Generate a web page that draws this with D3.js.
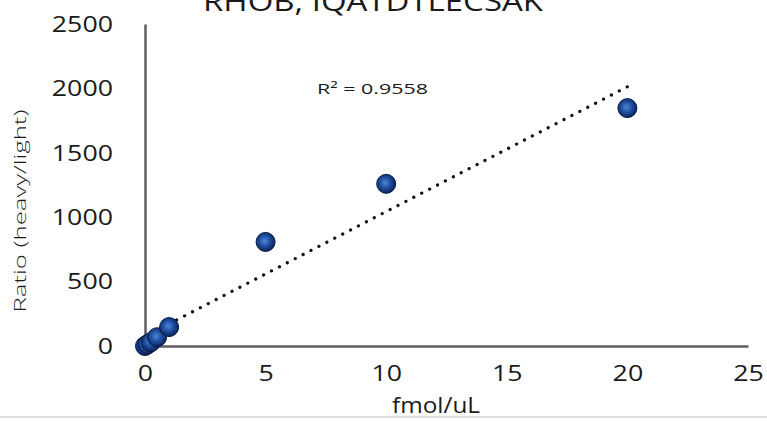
<!DOCTYPE html>
<html>
<head>
<meta charset="utf-8">
<script src="https://cdn.jsdelivr.net/npm/d3@7/dist/d3.min.js"></script>
<style>
  html, body { margin: 0; padding: 0; background: #fff; }
  svg { display: block; }
  text { font-family: "Open Sans", "Lato", sans-serif; fill: #1a1a1a; }
</style>
</head>
<body>
<svg id="chart" width="767" height="421"></svg>
<script>
// Calibration series: concentration (fmol/uL) vs heavy/light ratio
const concentration = [0, 0.1, 0.25, 0.5, 1, 5, 10, 20];
const ratio = [0, 12, 30, 68, 147, 808, 1259, 1847];
const xTicks = [0, 5, 10, 15, 20, 25];
const yTicks = [0, 500, 1000, 1500, 2000, 2500];
const titleText = "RHOB, IQATDTLECSAK";
const xLabel = "fmol/uL";
const yLabel = "Ratio (heavy/light)";

const svg = d3.select("#chart");
const W = 767, H = 421;
const m = { left: 145, right: 19, top: 24, bottom: 75 };

const x = d3.scaleLinear().domain([0, 25]).range([m.left, W - m.right]);
const y = d3.scaleLinear().domain([0, 2500]).range([H - m.bottom, m.top]);

// Least-squares linear trendline and its R²
const n = concentration.length;
const mx = d3.mean(concentration), my = d3.mean(ratio);
let sxy = 0, sxx = 0, syy = 0;
for (let i = 0; i < n; i++) {
  const dx = concentration[i] - mx, dy = ratio[i] - my;
  sxy += dx * dy; sxx += dx * dx; syy += dy * dy;
}
const slope = sxy / sxx, intercept = my - slope * mx;
const r2 = (sxy * sxy) / (sxx * syy);

// thin frame line along the bottom edge
svg.append("line")
  .attr("x1", 0).attr("x2", W).attr("y1", 417).attr("y2", 417)
  .attr("stroke", "#d4d4d4").attr("stroke-width", 1.5);

// Title (partially above the top edge)
svg.append("text")
  .attr("x", 373).attr("y", 11)
  .attr("text-anchor", "middle")
  .attr("font-size", 27)
  .attr("textLength", 340).attr("lengthAdjust", "spacingAndGlyphs")
  .text(titleText);

// Axes
const fmt = d3.format("d");
const yAxis = svg.append("g")
  .attr("transform", `translate(${m.left},0)`)
  .call(d3.axisLeft(y).tickValues(yTicks).tickFormat(fmt).tickSize(0).tickSizeOuter(0).tickPadding(32));
const xAxis = svg.append("g")
  .attr("transform", `translate(0,${H - m.bottom})`)
  .call(d3.axisBottom(x).tickValues(xTicks).tickFormat(fmt).tickSize(0).tickSizeOuter(0).tickPadding(30));

[yAxis, xAxis].forEach(g => {
  g.select(".domain").attr("stroke", "#5f5f5f").attr("stroke-width", 2.5);
  g.selectAll("text")
    .attr("font-size", 22.5)
    .attr("fill", "#1a1a1a")
    .style("font-family", '"Open Sans", "Lato", sans-serif')
    .attr("lengthAdjust", "spacingAndGlyphs")
    .attr("textLength", d => fmt(d).length * 15.3);
});
xAxis.selectAll("text").attr("dy", "0.2em");

// Axis titles
svg.append("text")
  .attr("x", 436).attr("y", 413)
  .attr("text-anchor", "middle")
  .attr("font-size", 21)
  .attr("textLength", 88).attr("lengthAdjust", "spacingAndGlyphs")
  .text(xLabel);

svg.append("text")
  .attr("transform", "translate(26,211) rotate(-90)")
  .attr("text-anchor", "middle")
  .attr("font-size", 17)
  .attr("font-weight", 300)
  .attr("textLength", 203).attr("lengthAdjust", "spacingAndGlyphs")
  .text(yLabel);

// Dotted trendline across the data range
const xMin = d3.min(concentration), xMax = d3.max(concentration);
svg.append("line")
  .attr("x1", x(xMin)).attr("y1", y(intercept + slope * xMin))
  .attr("x2", x(xMax)).attr("y2", y(intercept + slope * xMax))
  .attr("stroke", "#111")
  .attr("stroke-width", 3.2)
  .attr("stroke-linecap", "round")
  .attr("stroke-dasharray", "0.1 8.8");

// R² annotation
svg.append("text")
  .attr("x", 317).attr("y", 94)
  .attr("font-size", 15)
  .attr("textLength", 111).attr("lengthAdjust", "spacingAndGlyphs")
  .text(`R² = ${r2.toFixed(4)}`);

// Marker shading
const grad = svg.append("defs").append("radialGradient")
  .attr("id", "dot").attr("cx", "45%").attr("cy", "45%").attr("r", "55%");
grad.append("stop").attr("offset", "0%").attr("stop-color", "#4f86d6");
grad.append("stop").attr("offset", "55%").attr("stop-color", "#1d4c9c");
grad.append("stop").attr("offset", "100%").attr("stop-color", "#0b235a");

svg.append("g").selectAll("circle")
  .data(concentration.map((c, i) => [c, ratio[i]]))
  .join("circle")
  .attr("cx", d => x(d[0]))
  .attr("cy", d => y(d[1]))
  .attr("r", 9.5)
  .attr("fill", "url(#dot)")
  .attr("stroke", "#0a1c45")
  .attr("stroke-width", 1);
</script>
</body>
</html>
